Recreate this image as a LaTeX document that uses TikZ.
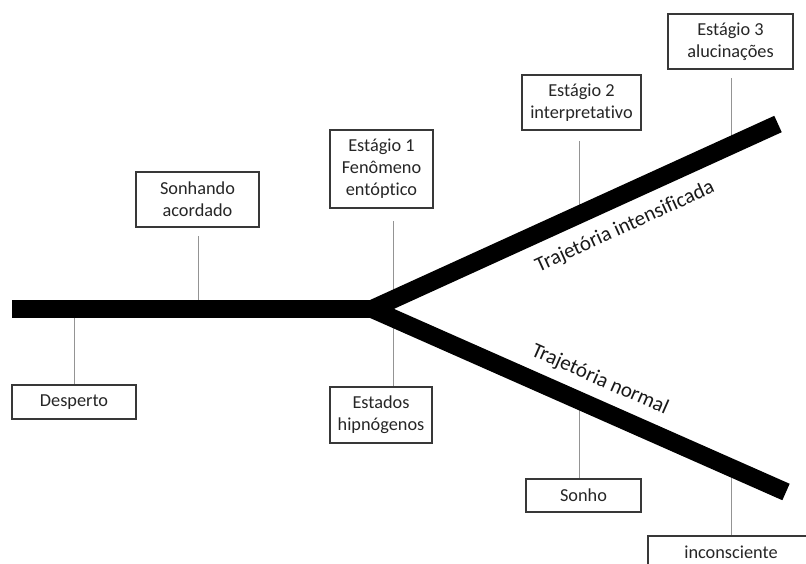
\documentclass[tikz,border=0pt]{standalone}
\usepackage{fontspec}
\setmainfont[Ligatures=NoCommon]{Carlito}
\begin{document}
\begin{tikzpicture}[
  x=1pt, y=-1pt,
  font=\fontsize{18.3}{22}\selectfont,
  caixa/.style={draw=black!78, line width=1.4pt, fill=white, align=center,
                inner sep=0pt, text=black!85},
  barra/.style={draw=black, line width=18pt, line cap=butt},
  ligacao/.style={draw=black!42, line width=1pt},
  rotulo/.style={inner sep=0pt, text=black!90, font=\fontsize{21}{24}\selectfont}
]

% ---- area da figura ------------------------------------------------
\fill[white] (0,0) rectangle (806,564);
\useasboundingbox (0,0) rectangle (806,564);

% ---- pontos da trajetoria ------------------------------------------
\coordinate (inicio)     at (12,309);
\coordinate (bifurcacao) at (372,309);
\coordinate (fimInt)     at (778,124);
\coordinate (fimNorm)    at (786,492);

% pontos onde as ligacoes tocam a barra
\coordinate (pDesperto) at (74,309);
\coordinate (pSonhando) at (198,309);
\coordinate (pEst1)     at (393,300);
\coordinate (pEstados)  at (393,318);
\coordinate (pEst2)     at (579,215);
\coordinate (pEst3)     at (731,145);
\coordinate (pSonho)    at (579,400);
\coordinate (pIncons)   at (731,468);

% ---- caixas --------------------------------------------------------
\node[caixa, minimum width=124pt, minimum height=34pt] (desperto) at (74,402) {Desperto};
\node[caixa, minimum width=123pt, minimum height=55pt] (sonhando) at (197.5,199.5) {Sonhando\\acordado};
\node[caixa, minimum width=103pt, minimum height=78pt] (estagio1) at (381.5,169) {Estágio 1\\Fenômeno\\entóptico};
\node[caixa, minimum width=102pt, minimum height=56pt] (estados) at (381,415) {Estados\\hipnógenos};
\node[caixa, minimum width=119pt, minimum height=55pt] (estagio2) at (581.5,102.5) {Estágio 2\\interpretativo};
\node[caixa, minimum width=125pt, minimum height=55pt] (estagio3) at (730.5,41.5) {Estágio 3\\alucinações};
\node[caixa, minimum width=115pt, minimum height=33pt] (sonho) at (583.5,495.5) {Sonho};
\node[caixa, minimum width=166pt, minimum height=32pt] (incons) at (731,552) {inconsciente};

% ---- ligacoes ------------------------------------------------------
\draw[ligacao] (pDesperto) -- (pDesperto |- desperto.north);
\draw[ligacao, shorten >=8pt] (pSonhando) -- (pSonhando |- sonhando.south);
\draw[ligacao, shorten >=12pt] (pEst1) -- (pEst1 |- estagio1.south);
\draw[ligacao] (pEstados) -- (pEstados |- estados.north);
\draw[ligacao, shorten >=10pt] (pEst2) -- (pEst2 |- estagio2.south);
\draw[ligacao, shorten >=8pt] (pEst3) -- (pEst3 |- estagio3.south);
\draw[ligacao] (pSonho) -- (pSonho |- sonho.north);
\draw[ligacao] (pIncons) -- (pIncons |- incons.north);

% ---- barras --------------------------------------------------------
\draw[barra] (inicio) -- (bifurcacao);
\draw[barra] (bifurcacao) -- (fimInt);    % trajetoria intensificada
\draw[barra] (bifurcacao) -- (fimNorm);   % trajetoria normal

% ---- rotulos das trajetorias ---------------------------------------
\node[rotulo, rotate=24.5]  (rotInt)  at (625,227) {Trajetória intensificada};
\node[rotulo, rotate=-23.8] (rotNorm) at (600,380) {Trajetória normal};

\end{tikzpicture}
\end{document}
